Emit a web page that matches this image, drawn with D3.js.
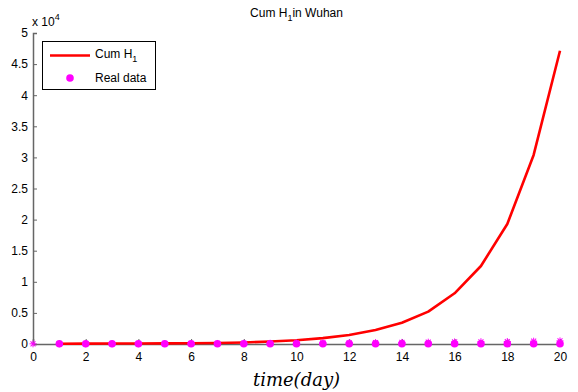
<!DOCTYPE html>
<html>
<head>
<meta charset="utf-8">
<script src="https://cdn.jsdelivr.net/npm/d3@7"></script>
<style>
  body { margin: 0; background: #fff; }
  svg { display: block; font-family: "Liberation Sans", Arial, sans-serif; }
</style>
</head>
<body>
<svg id="chart" width="578" height="392"></svg>
<script>
// Model output: cumulative H1 cases, days 1..20
const modelDays = [1, 2, 3, 4, 5, 6, 7, 8, 9, 10, 11, 12, 13, 14, 15, 16, 17, 18, 19, 20];
const modelCum  = [40, 55, 70, 85, 100, 120, 160, 250, 390, 600, 940, 1450, 2250, 3420, 5200, 8150, 12540, 19300, 30400, 47150];

// Observed counts (dots), days 1..20
const dotDays = [1, 2, 3, 4, 5, 6, 7, 8, 9, 10, 11, 12, 13, 14, 15, 16, 17, 18, 19, 20];
const dotVals = [41, 41, 41, 41, 41, 41, 41, 45, 45, 45, 45, 45, 45, 45, 45, 45, 45, 45, 45, 45];

// Reported counts (asterisks), days 0..20
const starDays = [0, 1, 2, 3, 4, 5, 6, 7, 8, 9, 10, 11, 12, 13, 14, 15, 16, 17, 18, 19, 20];
const starVals = [27, 41, 41, 41, 45, 62, 70, 85, 100, 120, 150, 180, 200, 230, 258, 290, 330, 360, 400, 450, 500];

const xTicks = [0, 2, 4, 6, 8, 10, 12, 14, 16, 18, 20];
const yTicks = [0, 0.5, 1, 1.5, 2, 2.5, 3, 3.5, 4, 4.5, 5];

const svg = d3.select("#chart");
const M = { left: 33, right: 18, top: 33, bottom: 48 };
const W = 578, H = 392;

const x = d3.scaleLinear().domain([0, 20]).range([M.left, W - M.right]);
const y = d3.scaleLinear().domain([0, 50000]).range([H - M.bottom, M.top]);

const axisColor = "#666";

// x axis with inward ticks
const xAxis = svg.append("g")
  .attr("transform", `translate(0,${y(0)})`)
  .call(d3.axisBottom(x).tickValues(xTicks).tickSize(-5).tickPadding(8).tickFormat(d3.format("d")));
xAxis.select(".domain").attr("stroke", axisColor).attr("stroke-width", 1.5);
xAxis.selectAll(".tick line").attr("stroke", axisColor);
xAxis.selectAll(".tick text").attr("font-size", 12).attr("fill", "#000");

// y axis with inward ticks, values in units of 10^4
const yAxis = svg.append("g")
  .attr("transform", `translate(${x(0)},0)`)
  .call(d3.axisLeft(y).tickValues(yTicks.map(v => v * 1e4)).tickSize(-4).tickPadding(5)
    .tickFormat(v => String(+(v / 1e4).toFixed(1))));
yAxis.select(".domain").attr("stroke", axisColor).attr("stroke-width", 1.5);
yAxis.selectAll(".tick line").attr("stroke", axisColor);
yAxis.selectAll(".tick text").attr("font-size", 12).attr("fill", "#000");

// exponent label
const expo = svg.append("text").attr("x", 32).attr("y", 26).attr("font-size", 12).attr("fill", "#000");
expo.append("tspan").text("x 10");
expo.append("tspan").attr("dy", -6).attr("font-size", 9).text("4");

// model curve
const line = d3.line().x((d, i) => x(modelDays[i])).y(d => y(d));
svg.append("path")
  .datum(modelCum)
  .attr("d", line)
  .attr("fill", "none")
  .attr("stroke", "#ff0000")
  .attr("stroke-width", 2.6)
  .attr("stroke-linejoin", "round");

// dots
svg.append("g").selectAll("circle")
  .data(dotVals)
  .join("circle")
  .attr("cx", (d, i) => x(dotDays[i]))
  .attr("cy", d => y(d))
  .attr("r", 3.8)
  .attr("fill", "#ff00ff");

// asterisks
const star = d3.symbol().type(d3.symbolAsterisk || d3.symbolCross).size(28);
const starG = svg.append("g");
starVals.forEach((v, i) => {
  const g = starG.append("g").attr("transform", `translate(${x(starDays[i])},${y(v)})`);
  [0, 45, 90, 135].forEach(a => {
    g.append("line")
      .attr("x1", -3.5).attr("x2", 3.5).attr("y1", 0).attr("y2", 0)
      .attr("transform", `rotate(${a})`)
      .attr("stroke", "#ff00ff").attr("stroke-width", 1);
  });
});

// title
const title = svg.append("text")
  .attr("x", (x(0) + x(20)) / 2).attr("y", 17)
  .attr("text-anchor", "middle").attr("font-size", 12).attr("fill", "#000");
title.append("tspan").text("Cum H");
title.append("tspan").attr("dy", 4).attr("font-size", 9).text("1");
title.append("tspan").attr("dy", -4).text("in Wuhan");

// x axis label
svg.append("text")
  .attr("x", (x(0) + x(20)) / 2).attr("y", 386)
  .attr("text-anchor", "middle")
  .attr("font-family", "'DejaVu Serif', 'Liberation Serif', serif")
  .attr("font-style", "italic")
  .attr("font-size", 18)
  .attr("fill", "#000")
  .text("time(day)");

// legend
const lg = svg.append("g");
lg.append("rect").attr("x", 42.5).attr("y", 41.5).attr("width", 113).attr("height", 48)
  .attr("fill", "#fff").attr("stroke", "#000").attr("stroke-width", 1);
lg.append("line").attr("x1", 50).attr("x2", 90).attr("y1", 55.5).attr("y2", 55.5)
  .attr("stroke", "#ff0000").attr("stroke-width", 2.6);
const l1 = lg.append("text").attr("x", 95).attr("y", 58).attr("font-size", 12).attr("fill", "#000");
l1.append("tspan").text("Cum H");
l1.append("tspan").attr("dy", 4).attr("font-size", 9).text("1");
lg.append("circle").attr("cx", 70).attr("cy", 78).attr("r", 3.8).attr("fill", "#ff00ff");
lg.append("text").attr("x", 95).attr("y", 82).attr("font-size", 12).attr("fill", "#000").text("Real data");
</script>
</body>
</html>
